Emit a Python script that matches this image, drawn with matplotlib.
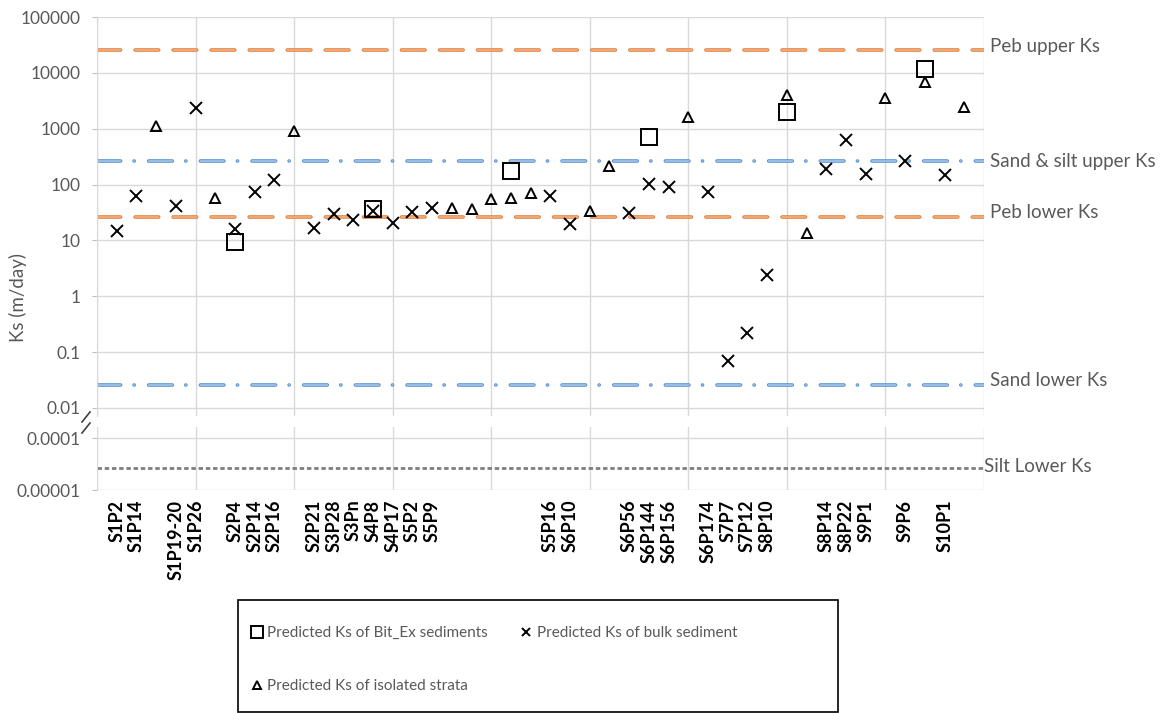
import numpy as np
import matplotlib.pyplot as plt
from matplotlib.lines import Line2D
from matplotlib.patches import Rectangle
from matplotlib.ticker import NullLocator

plt.rcParams['font.family'] = ['Lato', 'DejaVu Sans']
plt.rcParams['lines.scale_dashes'] = False

# bulk sediment samples: position along the section, name, Ks (m/day)
bulk_x = [1, 2, 4, 5, 7, 8, 9, 11, 12, 13, 14, 15, 16, 17, 23, 24,
          27, 28, 29, 31, 32, 33, 34, 37, 38, 39, 41, 43]
sample_names = ['S1P2', 'S1P14', 'S1P19-20', 'S1P26', 'S2P4', 'S2P14', 'S2P16',
                'S2P21', 'S3P28', 'S3Pn', 'S4P8', 'S4P17', 'S5P2', 'S5P9',
                'S5P16', 'S6P10', 'S6P56', 'S6P144', 'S6P156', 'S6P174', 'S7P7',
                'S7P12', 'S8P10', 'S8P14', 'S8P22', 'S9P1', 'S9P6', 'S10P1']
bulk_ks = [14.8, 62, 41, 2320, 15.8, 75, 121, 16.9, 29.4, 23.2, 33.7, 20.3,
           32.3, 38.5, 62, 19.7, 30.6, 101, 89, 73, 0.070, 0.223, 2.4, 188,
           628, 153, 264, 148]

# isolated strata
strata_x = [3, 6, 10, 18, 19, 20, 21, 22, 25, 26, 30, 35, 36, 40, 42, 44]
strata_ks = [1120, 57, 923, 37.6, 36.6, 54.5, 58, 70, 33, 215, 1600, 4020,
             13.4, 3600, 6950, 2480]

# Bit_Ex sediments
bitex_x = [7, 14, 21, 28, 35, 42]
bitex_ks = [9.5, 36, 177, 702, 1990, 11600]

# literature Ks bounds (m/day)
peb_upper = 25920
peb_lower = 25.92
sand_silt_upper = 259.2
sand_lower = 0.02592
silt_lower = 2.592e-5

x_max = 45
upper_ticks = [0.01, 0.1, 1, 10, 100, 1000, 10000, 100000]
lower_ticks = [0.00001, 0.0001]

W, H = 1172, 713
GRAY = '#595959'
GRID = '#D9D9D9'


def fig_box(left, top, right, bottom):
    return [left / W, 1 - bottom / H, (right - left) / W, (bottom - top) / H]


def style_axis(ax):
    for side in ['top', 'right', 'bottom']:
        ax.spines[side].set_visible(False)
    ax.spines['left'].set_color(GRID)
    ax.set_yscale('log')
    ax.yaxis.set_minor_locator(NullLocator())
    ax.set_xlim(0, x_max)
    ax.set_xticks(np.arange(0, x_max + 1, 5))
    ax.tick_params(axis='x', which='major', length=0, labelbottom=False)
    ax.tick_params(axis='y', colors='#BFBFBF', labelcolor=GRAY, labelsize=12.5,
                   length=3.6, width=0.8, pad=8.5)
    ax.grid(True, which='major', color=GRID, lw=1.0)
    ax.set_axisbelow(True)


def ref_line(ax, y, edge, fill, dashes, lw):
    ax.axhline(y, color=edge, lw=lw, dashes=dashes, dash_capstyle='round', zorder=2)
    ax.axhline(y, color=fill, lw=lw * 0.45, dashes=dashes, dash_capstyle='round', zorder=2)


fig = plt.figure(figsize=(W / 100, H / 100), dpi=100)
ax = fig.add_axes(fig_box(97, 17, 984, 416))
ax_lo = fig.add_axes(fig_box(97, 427, 984, 490))
style_axis(ax)
style_axis(ax_lo)

ax.set_ylim(10 ** (-2 - 8 / (391 / 7)), 100000)
ax.set_yticks(upper_ticks, [np.format_float_positional(v, trim='-') for v in upper_ticks])
ax_lo.set_ylim(0.00001, 10 ** (-4 + 11 / 52))
ax_lo.set_yticks(lower_ticks, [np.format_float_positional(v, trim='-') for v in lower_ticks])

orange_dash = (17, 10.4)
blue_dashdot = (17, 9.7, 0.1, 10.4)
ref_line(ax, peb_upper, '#E2803F', '#F3B07F', orange_dash, 2.6)
ref_line(ax, peb_lower, '#E2803F', '#F3B07F', orange_dash, 2.6)
ref_line(ax, sand_silt_upper, '#5B93D3', '#A5C6EA', blue_dashdot, 2.6)
ref_line(ax, sand_lower, '#5B93D3', '#A5C6EA', blue_dashdot, 2.6)
ax_lo.axhline(silt_lower, color='#7F7F7F', lw=2.0, dashes=(3.2, 2.0), zorder=2)

ref_labels = [('Peb upper Ks', peb_upper, 3), ('Sand & silt upper Ks', sand_silt_upper, 0),
              ('Peb lower Ks', peb_lower, 5), ('Sand lower Ks', sand_lower, 4)]
for text, y, dy in ref_labels:
    ax.annotate(text, xy=(x_max, y), xytext=(6, dy), textcoords='offset pixels',
                va='center', ha='left', color=GRAY, fontsize=13.5, annotation_clip=False)
ax_lo.annotate('Silt Lower Ks', xy=(x_max, silt_lower), xytext=(0, 2), textcoords='offset pixels',
               va='center', ha='left', color=GRAY, fontsize=13.5, annotation_clip=False)

h_bitex, = ax.plot(bitex_x, bitex_ks, ls='none', marker='s', ms=11.5, mfc='none',
                   mec='black', mew=1.4, zorder=4, label='Predicted Ks of Bit_Ex sediments')
h_bulk, = ax.plot(bulk_x, bulk_ks, ls='none', marker='x', ms=8.5, color='black',
                  mew=1.4, zorder=5, label='Predicted Ks of bulk sediment')
h_strata, = ax.plot(strata_x, strata_ks, ls='none', marker='^', ms=7.5, mfc='none',
                    mec='black', mew=1.4, zorder=4, label='Predicted Ks of isolated strata')

# sample names under the lower panel (some sit on gridline positions)
ax_lo.xaxis.remove_overlapping_locs = False
ax_lo.set_xticks(bulk_x, sample_names, minor=True)
ax_lo.tick_params(axis='x', which='minor', length=0, pad=7, labelsize=13,
                  labelrotation=90, labelcolor='black')
for lab in ax_lo.get_xticklabels(minor=True):
    lab.set_fontweight('bold')

fig.text(18 / W, 1 - 297 / H, 'Ks (m/day)', rotation=90, ha='center', va='center',
         color=GRAY, fontsize=13.5)

# axis break marks
for y0 in (422, 433):
    fig.add_artist(Line2D([82 / W, 90 / W], [1 - y0 / H, 1 - (y0 - 10) / H],
                          transform=fig.transFigure, color='#404040', lw=1.2))

fig.add_artist(Rectangle((238 / W, 1 - 712 / H), 600 / W, 112 / H, transform=fig.transFigure,
                         fill=False, edgecolor='black', lw=1.2))
fig.legend(handles=[h_bitex, h_strata, h_bulk], ncol=2, loc='upper left',
           bbox_to_anchor=(249 / W, 1 - 626 / H), frameon=False, fontsize=11,
           labelcolor=GRAY, markerscale=0.7, handlelength=1.0, handletextpad=0.2,
           columnspacing=2.0, labelspacing=2.55, borderpad=0, borderaxespad=0)

fig.savefig('out.png', dpi=100)
